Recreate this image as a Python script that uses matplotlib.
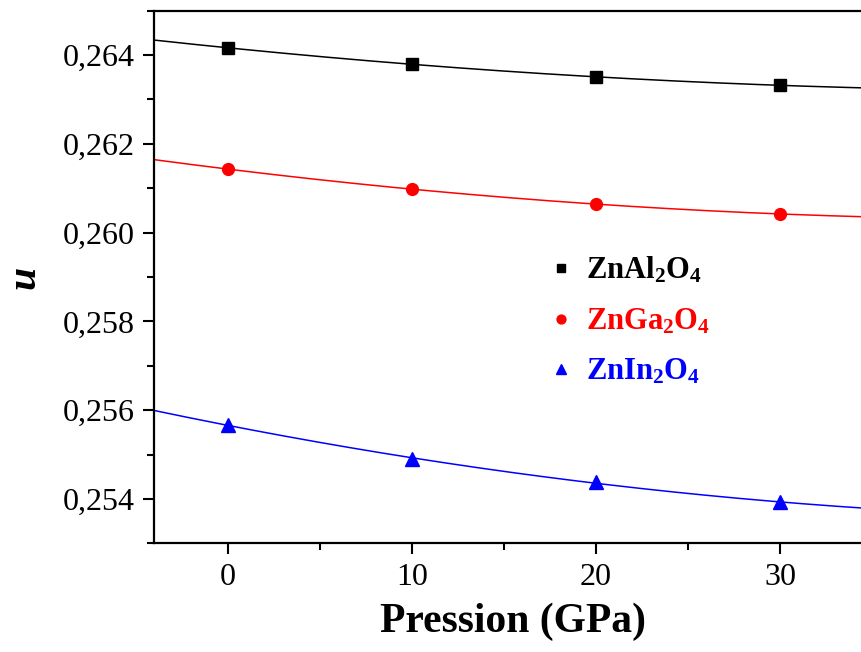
import numpy as np
import matplotlib.pyplot as plt
from matplotlib.ticker import MultipleLocator, FuncFormatter

plt.rcParams['font.family'] = 'Liberation Serif'
plt.rcParams['mathtext.fontset'] = 'custom'
plt.rcParams['mathtext.rm'] = 'Liberation Serif:bold'
plt.rcParams['mathtext.default'] = 'rm'

pressure = [0, 10, 20, 30]
u_al = [0.26416, 0.26380, 0.26350, 0.26332]
u_ga = [0.26143, 0.26098, 0.26064, 0.26042]
u_in = [0.25567, 0.25489, 0.25439, 0.25392]

names = ['ZnAl$_2$O$_4$', 'ZnGa$_2$O$_4$', 'ZnIn$_2$O$_4$']
colors = ['black', 'red', 'blue']
markers = ['s', 'o', '^']
msizes = [8.5, 8.5, 10]

fig = plt.figure(figsize=(8.62, 6.52), dpi=100)
ax = fig.add_axes([0.1787, 0.1667, 0.833, 0.817])

xs = np.linspace(-4, 35, 200)
for u, name, c, m, ms in zip([u_al, u_ga, u_in], names, colors, markers, msizes):
    # second-order fit through the computed points
    coef = np.polyfit(pressure, u, 2)
    ax.plot(xs, np.polyval(coef, xs), color=c, lw=1.1)
    ax.plot(pressure, u, ls='none', marker=m, ms=ms, color=c, label=name)

ax.set_xlim(-4, 35)
ax.set_ylim(0.253, 0.265)
ax.xaxis.set_major_locator(MultipleLocator(10))
ax.xaxis.set_minor_locator(MultipleLocator(5))
ax.yaxis.set_major_locator(MultipleLocator(0.002))
ax.yaxis.set_minor_locator(MultipleLocator(0.001))
ax.yaxis.set_major_formatter(FuncFormatter(lambda v, p: f'{v:.3f}'.replace('.', ',')))
ax.tick_params(which='both', direction='out', width=1.5, labelsize=23, top=False, right=False)
ax.tick_params(which='major', length=8, pad=6)
ax.tick_params(which='minor', length=5)
for s in ax.spines.values():
    s.set_linewidth(1.6)

ax.set_xlabel('Pression (GPa)', fontsize=30, fontweight='bold', labelpad=8)
ax.set_ylabel('u', fontsize=30, fontweight='bold', style='italic', labelpad=14)

leg = ax.legend(loc='upper left', bbox_to_anchor=(0.512, 0.592), frameon=False,
                markerscale=0.75, handlelength=0.8, handletextpad=0.4,
                labelspacing=0.68, prop={'weight': 'bold', 'size': 22})
for t, c in zip(leg.get_texts(), colors):
    t.set_color(c)

fig.savefig('out.png', dpi=100)
